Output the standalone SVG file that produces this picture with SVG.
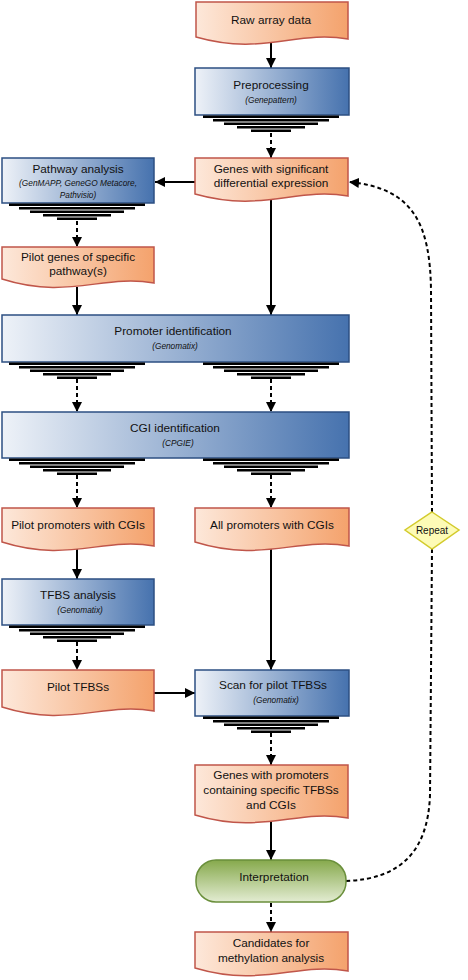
<svg xmlns="http://www.w3.org/2000/svg" xmlns:xlink="http://www.w3.org/1999/xlink" width="468" height="980" viewBox="0 0 468 980">
<defs>
<linearGradient id="gOr" x1="0" y1="0" x2="1" y2="0">
<stop offset="0" stop-color="#fde8da"/><stop offset="1" stop-color="#f4a26c"/>
</linearGradient>
<linearGradient id="gBl" x1="0" y1="0" x2="1" y2="0">
<stop offset="0" stop-color="#eef2f8"/><stop offset="1" stop-color="#4672ae"/>
</linearGradient>
<linearGradient id="gGr" x1="0" y1="0" x2="0" y2="1">
<stop offset="0" stop-color="#86a94c"/><stop offset="1" stop-color="#e3ecd2"/>
</linearGradient>
<marker id="ah" markerUnits="userSpaceOnUse" markerWidth="10" markerHeight="10" refX="10" refY="5" orient="auto">
<path d="M0,0 L10,5 L0,10 z" fill="#000"/>
</marker>
<g id="stripes" fill="#000">
<rect x="-68" y="0.5" width="136" height="2.5"/>
<rect x="-58" y="4" width="116" height="2.5"/>
<rect x="-47" y="7.5" width="94" height="2.5"/>
<rect x="-34" y="11" width="68" height="2.5"/>
<rect x="-20" y="14.5" width="40" height="2.5"/>
</g>
</defs>
<style>
.doc{fill:url(#gOr);stroke:#c0564a;stroke-width:1.5}
.proc{fill:url(#gBl);stroke:#2c4f82;stroke-width:1.5}
.term{fill:url(#gGr);stroke:#6a8f3b;stroke-width:1.5}
.dec{fill:#fdfbb6;stroke:#d3cb2c;stroke-width:1.5}
.t{font-family:"Liberation Sans",Arial,sans-serif;font-size:11.8px;fill:#111;text-anchor:middle}
.s{font-family:"Liberation Sans",Arial,sans-serif;font-size:8.3px;font-style:italic;fill:#111;text-anchor:middle}
.r{font-family:"Liberation Sans",Arial,sans-serif;font-size:10px;fill:#111;text-anchor:middle}
.sol{fill:none;stroke:#000;stroke-width:2;marker-end:url(#ah)}
.das{fill:none;stroke:#000;stroke-width:2;stroke-dasharray:4 3;marker-end:url(#ah)}
</style>

<g id="connectors">
<line class="sol" x1="271" y1="43" x2="271" y2="68"/>
<line class="das" x1="271" y1="133" x2="271" y2="158"/>
<line class="sol" x1="195" y1="182" x2="155" y2="182"/>
<line class="das" x1="77" y1="221" x2="77" y2="247"/>
<line class="sol" x1="77" y1="287" x2="77" y2="315"/>
<line class="sol" x1="271" y1="199" x2="271" y2="315"/>
<line class="das" x1="77" y1="379" x2="77" y2="412"/>
<line class="das" x1="271" y1="379" x2="271" y2="412"/>
<line class="das" x1="77" y1="475" x2="77" y2="508"/>
<line class="das" x1="271" y1="475" x2="271" y2="508"/>
<line class="sol" x1="77" y1="549" x2="77" y2="579"/>
<line class="sol" x1="271" y1="547" x2="271" y2="670"/>
<line class="das" x1="77" y1="642" x2="77" y2="670"/>
<line class="sol" x1="154" y1="693" x2="195" y2="693"/>
<line class="das" x1="271" y1="733" x2="271" y2="765"/>
<line class="sol" x1="271" y1="822" x2="271" y2="860"/>
<line class="das" x1="271" y1="903" x2="271" y2="932"/>
<path class="das" d="M 432 512 L 431 290 C 430 225 414 188 349 182"/>
<path fill="none" stroke="#000" stroke-width="2" stroke-dasharray="4 3" d="M 432 549 L 430 795 C 428 850 402 879 346 881"/>
</g>

<g id="n_raw">
<path class="doc" d="M196,2 H348 V39 C296,30 262,56 196,37 Z"/>
<text class="t" x="271" y="24">Raw array data</text>
</g>

<g id="n_pre">
<rect class="proc" x="195" y="68" width="154" height="47"/>
<use xlink:href="#stripes" x="271" y="115"/>
<text class="t" x="271" y="89">Preprocessing</text>
<text class="s" x="271" y="103">(Genepattern)</text>
</g>

<g id="n_genes">
<path class="doc" d="M195,158 H348 V196 C296,187 262,213 195,194 Z"/>
<text class="t" x="271" y="173">Genes with significant</text>
<text class="t" x="271" y="187">differential expression</text>
</g>

<g id="n_path">
<rect class="proc" x="2" y="158" width="152" height="45"/>
<use xlink:href="#stripes" x="77" y="203"/>
<text class="t" x="78" y="173">Pathway analysis</text>
<text class="s" x="78" y="186">(GenMAPP, GeneGO Metacore,</text>
<text class="s" x="78" y="198">Pathvisio)</text>
</g>

<g id="n_pilotgenes">
<path class="doc" d="M2,247 H154 V283 C103,274 68,300 2,279 Z"/>
<text class="t" x="78" y="261">Pilot genes of specific</text>
<text class="t" x="78" y="275">pathway(s)</text>
</g>

<g id="n_prom">
<rect class="proc" x="2" y="315" width="347" height="47"/>
<use xlink:href="#stripes" x="77" y="362"/>
<use xlink:href="#stripes" x="271" y="362"/>
<text class="t" x="173" y="335">Promoter identification</text>
<text class="s" x="175" y="349">(Genomatix)</text>
</g>

<g id="n_cgi">
<rect class="proc" x="2" y="412" width="347" height="46"/>
<use xlink:href="#stripes" x="77" y="458"/>
<use xlink:href="#stripes" x="271" y="458"/>
<text class="t" x="175" y="432">CGI identification</text>
<text class="s" x="178" y="446">(CPGIE)</text>
</g>

<g id="n_pilotprom">
<path class="doc" d="M2,508 H154 V546 C103,537 68,563 2,542 Z"/>
<text class="t" x="78" y="529">Pilot promoters with CGIs</text>
</g>

<g id="n_allprom">
<path class="doc" d="M195,508 H349 V546 C297,537 262,563 195,542 Z"/>
<text class="t" x="272" y="529">All promoters with CGIs</text>
</g>

<g id="n_tfbs">
<rect class="proc" x="2" y="579" width="152" height="46"/>
<use xlink:href="#stripes" x="77" y="625"/>
<text class="t" x="78" y="599">TFBS analysis</text>
<text class="s" x="80" y="613">(Genomatix)</text>
</g>

<g id="n_pilottfbs">
<path class="doc" d="M2,670 H154 V711 C103,702 68,728 2,707 Z"/>
<text class="t" x="78" y="691">Pilot TFBSs</text>
</g>

<g id="n_scan">
<rect class="proc" x="195" y="670" width="154" height="46"/>
<use xlink:href="#stripes" x="271" y="716"/>
<text class="t" x="273" y="689">Scan for pilot TFBSs</text>
<text class="s" x="276" y="703">(Genomatix)</text>
</g>

<g id="n_genesprom">
<path class="doc" d="M195,765 H348 V818 C296,809 262,835 195,815 Z"/>
<text class="t" x="271" y="779">Genes with promoters</text>
<text class="t" x="271" y="794">containing specific TFBSs</text>
<text class="t" x="271" y="809">and CGIs</text>
</g>

<g id="n_interp">
<rect class="term" x="196" y="860" width="150" height="42" rx="20" ry="20"/>
<text class="t" x="274" y="881">Interpretation</text>
</g>

<g id="n_cand">
<path class="doc" d="M195,932 H348 V971 C296,962 262,988 195,968 Z"/>
<text class="t" x="271" y="947">Candidates for</text>
<text class="t" x="271" y="962">methylation analysis</text>
</g>

<g id="n_repeat">
<path class="dec" d="M432,512 L459,530 L432,549 L405,530 Z"/>
<text class="r" x="432" y="534">Repeat</text>
</g>
</svg>
